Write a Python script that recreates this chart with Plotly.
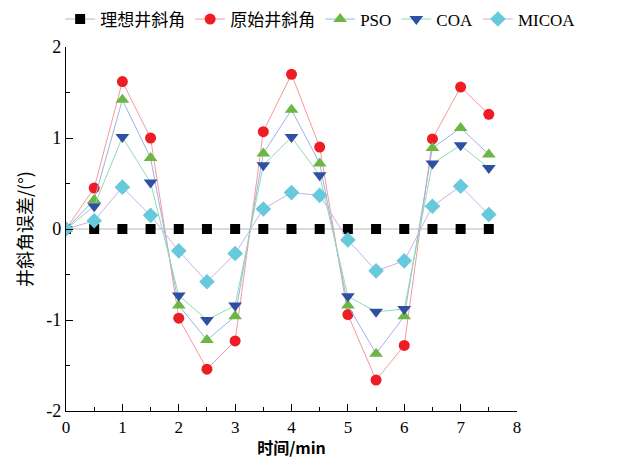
import plotly.graph_objects as go

# Sampling times (min)
t = [0, 0.5, 1, 1.5, 2, 2.5, 3, 3.5, 4, 4.5, 5, 5.5, 6, 6.5, 7, 7.5]

# Inclination-angle error of each method (degrees)
ideal = [0] * 16
raw = [0, 0.45, 1.62, 1.00, -0.98, -1.54, -1.23, 1.07, 1.70, 0.90, -0.94, -1.66, -1.28, 0.99, 1.56, 1.26]
pso = [0, 0.32, 1.42, 0.78, -0.84, -1.22, -0.96, 0.83, 1.31, 0.72, -0.84, -1.37, -0.96, 0.89, 1.11, 0.82]
coa = [0, 0.25, 1.01, 0.51, -0.73, -1.00, -0.84, 0.70, 1.01, 0.59, -0.74, -0.91, -0.88, 0.72, 0.92, 0.67]
micoa = [0, 0.09, 0.46, 0.15, -0.24, -0.58, -0.27, 0.22, 0.40, 0.37, -0.12, -0.46, -0.35, 0.25, 0.47, 0.16]

# Axis tick labels
x_ticks = [0, 1, 2, 3, 4, 5, 6, 7, 8]
y_ticks = [-2, -1, 0, 1, 2]
y_tick_text = ["-2", "-1", "0", "1", "2"]

series = [
    ("理想井斜角", ideal, "#b8b8b8", "#000000", "square", 10),
    ("原始井斜角", raw, "#f49a9a", "#ee1c25", "circle", 11),
    ("PSO", pso, "#9db3e6", "#6bb744", "triangle-up", 12),
    ("COA", coa, "#8fdcb0", "#2f4fa2", "triangle-down", 12),
    ("MICOA", micoa, "#c8b2e6", "#66c9dc", "diamond", 12),
]

fig = go.Figure()
for name, vals, lc, mc, sym, sz in series:
    fig.add_trace(go.Scatter(
        x=t, y=vals, name=name, mode="lines+markers",
        line=dict(color=lc, width=1),
        marker=dict(color=mc, symbol=sym, size=sz, line=dict(width=0)),
    ))

axis_common = dict(
    showline=True, linecolor="black", linewidth=1.3, mirror=False,
    showgrid=False, zeroline=False,
    ticks="inside", ticklen=7, tickwidth=1.2, tickcolor="black",
    minor=dict(ticks="inside", ticklen=4, tickwidth=1.2, tickcolor="black", dtick=0.5, showgrid=False),
)

fig.update_layout(
    width=617, height=459,
    paper_bgcolor="white", plot_bgcolor="white",
    margin=dict(l=66, r=100, t=47, b=48, autoexpand=False),
    xaxis=dict(range=[0, 8], tickmode="array", tickvals=x_ticks,
               tickfont=dict(family="Liberation Serif", size=17, color="black"),
               title=dict(text="<b>时间/min</b>", standoff=4,
                          font=dict(family="Noto Sans CJK SC", size=16, color="black")),
               **axis_common),
    yaxis=dict(range=[-2, 2], tickmode="array", tickvals=y_ticks, ticktext=y_tick_text,
               tickfont=dict(family="Liberation Serif", size=18, color="black"),
               title=dict(text="井斜角误差/(°)", standoff=8,
                          font=dict(family="Noto Sans CJK SC", size=18, color="black")),
               **axis_common),
    legend=dict(orientation="h", x=-0.013, xanchor="left", y=1.125, yanchor="top",
                font=dict(family="Liberation Serif, Noto Sans CJK SC", size=17, color="black"),
                itemwidth=30, tracegroupgap=0, bgcolor="rgba(0,0,0,0)"),
    showlegend=True,
)

fig.write_html("out.html")
